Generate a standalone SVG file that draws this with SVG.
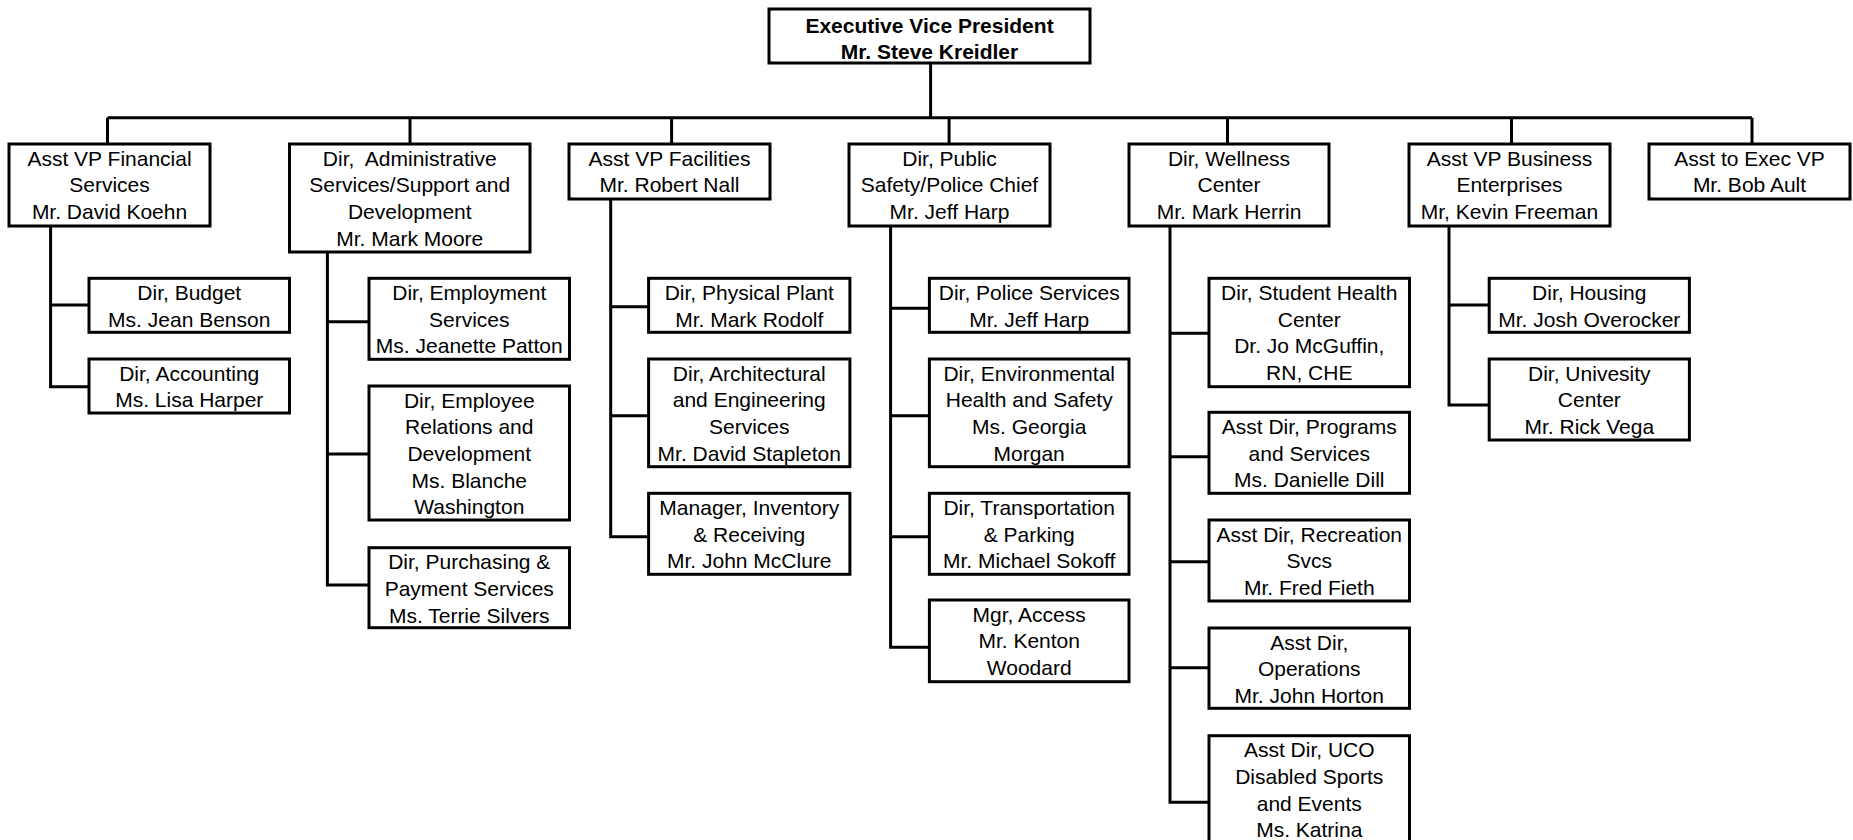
<svg xmlns="http://www.w3.org/2000/svg" width="1853" height="840" viewBox="0 0 1853 840">
<style>
.box{fill:#fff;stroke:#000;stroke-width:3}
.ln{fill:none;stroke:#000;stroke-width:3}
.t{font-family:"Liberation Sans",Arial,sans-serif;font-size:21px;text-anchor:middle;fill:#000}
.b{font-weight:bold}
</style>
<rect width="1853" height="840" fill="#fff"/>
<g id="connectors" class="ln">
<path d="M930.6 63 V117.7"/>
<path d="M107.5 117.7 H1752"/>
<path d="M107.5 117.7 V144 M410 117.7 V144 M671.6 117.7 V144 M949.1 117.7 V144 M1227.5 117.7 V144 M1511.5 117.7 V144 M1752 117.7 V144"/>
<path d="M50.6 226 V386.7 H89 M50.6 305 H89"/>
<path d="M327.4 252 V585 H369 M327.4 321.7 H369 M327.4 454 H369"/>
<path d="M610.7 199 V536.7 H648.6 M610.7 306.7 H648.6 M610.7 415.7 H648.6"/>
<path d="M890.6 226 V647.3 H929.4 M890.6 308.3 H929.4 M890.6 415.7 H929.4 M890.6 536.7 H929.4"/>
<path d="M1170 226 V802.3 H1209 M1170 333.3 H1209 M1170 456.7 H1209 M1170 561.7 H1209 M1170 667.7 H1209"/>
<path d="M1449 226 V405 H1489.2 M1449 305 H1489.2"/>
</g>
<g id="evp"><rect class="box" x="769" y="9" width="321" height="54"/><text class="t b"><tspan x="929.5" y="32.5">Executive Vice President</tspan><tspan x="929.5" y="59">Mr. Steve Kreidler</tspan></text></g>
<g id="fin"><rect class="box" x="9" y="144" width="201" height="82"/><text class="t"><tspan x="109.5" y="165.5">Asst VP Financial</tspan><tspan x="109.5" y="192.2">Services</tspan><tspan x="109.5" y="218.9">Mr. David Koehn</tspan></text></g>
<g id="admin"><rect class="box" x="289.5" y="144" width="240.5" height="108"/><text class="t"><tspan x="409.75" y="165.5">Dir,&#160; Administrative</tspan><tspan x="409.75" y="192.2">Services/Support and</tspan><tspan x="409.75" y="218.9">Development</tspan><tspan x="409.75" y="245.6">Mr. Mark Moore</tspan></text></g>
<g id="fac"><rect class="box" x="569" y="144" width="201" height="55"/><text class="t"><tspan x="669.5" y="165.5">Asst VP Facilities</tspan><tspan x="669.5" y="192.2">Mr. Robert Nall</tspan></text></g>
<g id="ps"><rect class="box" x="849" y="144" width="201" height="82"/><text class="t"><tspan x="949.5" y="165.5">Dir, Public</tspan><tspan x="949.5" y="192.2">Safety/Police Chief</tspan><tspan x="949.5" y="218.9">Mr. Jeff Harp</tspan></text></g>
<g id="well"><rect class="box" x="1129" y="144" width="200" height="82"/><text class="t"><tspan x="1229" y="165.5">Dir, Wellness</tspan><tspan x="1229" y="192.2">Center</tspan><tspan x="1229" y="218.9">Mr. Mark Herrin</tspan></text></g>
<g id="bus"><rect class="box" x="1409" y="144" width="201" height="82"/><text class="t"><tspan x="1509.5" y="165.5">Asst VP Business</tspan><tspan x="1509.5" y="192.2">Enterprises</tspan><tspan x="1509.5" y="218.9">Mr, Kevin Freeman</tspan></text></g>
<g id="asst"><rect class="box" x="1649" y="144" width="201" height="55"/><text class="t"><tspan x="1749.5" y="165.5">Asst to Exec VP</tspan><tspan x="1749.5" y="192.2">Mr. Bob Ault</tspan></text></g>
<g id="budget"><rect class="box" x="89" y="278.3" width="200.5" height="54"/><text class="t"><tspan x="189.25" y="299.8">Dir, Budget</tspan><tspan x="189.25" y="326.5">Ms. Jean Benson</tspan></text></g>
<g id="accounting"><rect class="box" x="89" y="359" width="200.5" height="54"/><text class="t"><tspan x="189.25" y="380.5">Dir, Accounting</tspan><tspan x="189.25" y="407.2">Ms. Lisa Harper</tspan></text></g>
<g id="employment"><rect class="box" x="369" y="278.3" width="200.5" height="81"/><text class="t"><tspan x="469.25" y="299.8">Dir, Employment</tspan><tspan x="469.25" y="326.5">Services</tspan><tspan x="469.25" y="353.2">Ms. Jeanette Patton</tspan></text></g>
<g id="relations"><rect class="box" x="369" y="386" width="200.5" height="134"/><text class="t"><tspan x="469.25" y="407.5">Dir, Employee</tspan><tspan x="469.25" y="434.2">Relations and</tspan><tspan x="469.25" y="460.9">Development</tspan><tspan x="469.25" y="487.6">Ms. Blanche</tspan><tspan x="469.25" y="514.3">Washington</tspan></text></g>
<g id="purchasing"><rect class="box" x="369" y="547.7" width="200.5" height="80"/><text class="t"><tspan x="469.25" y="569.2">Dir, Purchasing &amp;</tspan><tspan x="469.25" y="595.9">Payment Services</tspan><tspan x="469.25" y="622.6">Ms. Terrie Silvers</tspan></text></g>
<g id="plant"><rect class="box" x="648.6" y="278.3" width="201.3" height="54"/><text class="t"><tspan x="749.25" y="299.8">Dir, Physical Plant</tspan><tspan x="749.25" y="326.5">Mr. Mark Rodolf</tspan></text></g>
<g id="arch"><rect class="box" x="648.6" y="359" width="201.3" height="107.7"/><text class="t"><tspan x="749.25" y="380.5">Dir, Architectural</tspan><tspan x="749.25" y="407.2">and Engineering</tspan><tspan x="749.25" y="433.9">Services</tspan><tspan x="749.25" y="460.6">Mr. David Stapleton</tspan></text></g>
<g id="inventory"><rect class="box" x="648.6" y="493.3" width="201.3" height="81"/><text class="t"><tspan x="749.25" y="514.8">Manager, Inventory</tspan><tspan x="749.25" y="541.5">&amp; Receiving</tspan><tspan x="749.25" y="568.2">Mr. John McClure</tspan></text></g>
<g id="police"><rect class="box" x="929.4" y="278.3" width="199.6" height="54"/><text class="t"><tspan x="1029.2" y="299.8">Dir, Police Services</tspan><tspan x="1029.2" y="326.5">Mr. Jeff Harp</tspan></text></g>
<g id="env"><rect class="box" x="929.4" y="359" width="199.6" height="107.7"/><text class="t"><tspan x="1029.2" y="380.5">Dir, Environmental</tspan><tspan x="1029.2" y="407.2">Health and Safety</tspan><tspan x="1029.2" y="433.9">Ms. Georgia</tspan><tspan x="1029.2" y="460.6">Morgan</tspan></text></g>
<g id="transport"><rect class="box" x="929.4" y="493.3" width="199.6" height="81"/><text class="t"><tspan x="1029.2" y="514.8">Dir, Transportation</tspan><tspan x="1029.2" y="541.5">&amp; Parking</tspan><tspan x="1029.2" y="568.2">Mr. Michael Sokoff</tspan></text></g>
<g id="access"><rect class="box" x="929.4" y="600" width="199.6" height="81.7"/><text class="t"><tspan x="1029.2" y="621.5">Mgr, Access</tspan><tspan x="1029.2" y="648.2">Mr. Kenton</tspan><tspan x="1029.2" y="674.9">Woodard</tspan></text></g>
<g id="health"><rect class="box" x="1209" y="278.3" width="200.5" height="108.4"/><text class="t"><tspan x="1309.25" y="299.8">Dir, Student Health</tspan><tspan x="1309.25" y="326.5">Center</tspan><tspan x="1309.25" y="353.2">Dr. Jo McGuffin,</tspan><tspan x="1309.25" y="379.9">RN, CHE</tspan></text></g>
<g id="programs"><rect class="box" x="1209" y="412.3" width="200.5" height="81"/><text class="t"><tspan x="1309.25" y="433.8">Asst Dir, Programs</tspan><tspan x="1309.25" y="460.5">and Services</tspan><tspan x="1309.25" y="487.2">Ms. Danielle Dill</tspan></text></g>
<g id="recreation"><rect class="box" x="1209" y="520" width="200.5" height="81"/><text class="t"><tspan x="1309.25" y="541.5">Asst Dir, Recreation</tspan><tspan x="1309.25" y="568.2">Svcs</tspan><tspan x="1309.25" y="594.9">Mr. Fred Fieth</tspan></text></g>
<g id="operations"><rect class="box" x="1209" y="628" width="200.5" height="80.3"/><text class="t"><tspan x="1309.25" y="649.5">Asst Dir,</tspan><tspan x="1309.25" y="676.2">Operations</tspan><tspan x="1309.25" y="702.9">Mr. John Horton</tspan></text></g>
<g id="uco"><rect class="box" x="1209" y="735.7" width="200.5" height="134"/><text class="t"><tspan x="1309.25" y="757.2">Asst Dir, UCO</tspan><tspan x="1309.25" y="783.9">Disabled Sports</tspan><tspan x="1309.25" y="810.6">and Events</tspan><tspan x="1309.25" y="837.3">Ms. Katrina</tspan></text></g>
<g id="housing"><rect class="box" x="1489.2" y="278.3" width="200.2" height="54"/><text class="t"><tspan x="1589.3" y="299.8">Dir, Housing</tspan><tspan x="1589.3" y="326.5">Mr. Josh Overocker</tspan></text></g>
<g id="univ"><rect class="box" x="1489.2" y="359" width="200.2" height="81"/><text class="t"><tspan x="1589.3" y="380.5">Dir, Univesity</tspan><tspan x="1589.3" y="407.2">Center</tspan><tspan x="1589.3" y="433.9">Mr. Rick Vega</tspan></text></g>
</svg>
